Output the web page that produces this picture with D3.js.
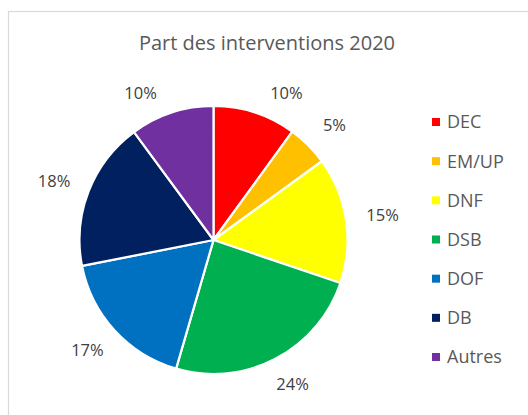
<!DOCTYPE html>
<html>
<head>
<meta charset="utf-8">
<script src="https://cdn.jsdelivr.net/npm/d3@7"></script>
<style>
  html, body { margin: 0; padding: 0; background: #fff; }
  svg { display: block; font-family: "Open Sans", sans-serif; }
  .title { font-size: 20px; fill: #595959; }
  .lbl { font-size: 16.5px; fill: #404040; }
  .leg { font-size: 18px; fill: #595959; }
</style>
</head>
<body>
<svg id="chart" width="528" height="415"></svg>
<script>
// Part des interventions 2020 — Excel-style pie, outside-end labels, legend on the right.
const categories = ["DEC", "EM/UP", "DNF", "DSB", "DOF", "DB", "Autres"];
const shares = [10.0, 5.0, 15.2, 24.3, 17.4, 18.0, 10.1];
const colors = ["#ff0000", "#ffc000", "#ffff00", "#00b050", "#0070c0", "#002060", "#7030a0"];

const W = 528, H = 415;
const cx = 213.5, cy = 240, r = 134;
const svg = d3.select("#chart");

// chart frame
svg.append("rect")
  .attr("x", 8.5).attr("y", 11.5).attr("width", W + 10).attr("height", H + 10)
  .attr("fill", "#fff").attr("stroke", "#d9d9d9").attr("stroke-width", 1.2);

svg.append("text").attr("class", "title")
  .attr("x", 267).attr("y", 50).attr("text-anchor", "middle")
  .text("Part des interventions 2020");

const data = categories.map((c, i) => ({ cat: c, v: shares[i], col: colors[i] }));
const pie = d3.pie().sort(null).value((d) => d.v);
const arc = d3.arc().innerRadius(0).outerRadius(r);
const arcs = pie(data);
const total = d3.sum(shares);

const g = svg.append("g").attr("transform", `translate(${cx},${cy})`);
g.selectAll("path").data(arcs).join("path")
  .attr("d", arc)
  .attr("fill", (d) => d.data.col)
  .attr("stroke", "#fff").attr("stroke-width", 2.2).attr("stroke-linejoin", "round");

// outside-end labels, kept below the plot-area top
const R = 163, minY = 93 - cy;
g.selectAll("text.lbl").data(arcs).join("text")
  .attr("class", "lbl")
  .attr("text-anchor", "middle").attr("dy", "0.35em")
  .each(function (d) {
    const a = (d.startAngle + d.endAngle) / 2;
    const ux = Math.sin(a), uy = -Math.cos(a);
    let x = R * ux + ux * 8, y = R * uy;
    if (y < minY) {
      y = minY;
      x = Math.sign(ux) * (Math.sqrt(R * R - y * y) + Math.abs(ux) * 8);
    }
    d3.select(this).attr("x", x).attr("y", y)
      .text(d3.format(".0%")(d.data.v / total));
  });

// legend
const ly = d3.scalePoint().domain(categories).range([122, 357]);
const leg = svg.selectAll("g.legrow").data(data).join("g").attr("class", "legrow")
  .attr("transform", (d) => `translate(432,${ly(d.cat)})`);
leg.append("rect").attr("x", 0).attr("y", -4).attr("width", 8).attr("height", 8)
  .attr("fill", (d) => d.col);
leg.append("text").attr("class", "leg").attr("x", 15).attr("dy", "0.36em")
  .text((d) => d.cat);
</script>
</body>
</html>
